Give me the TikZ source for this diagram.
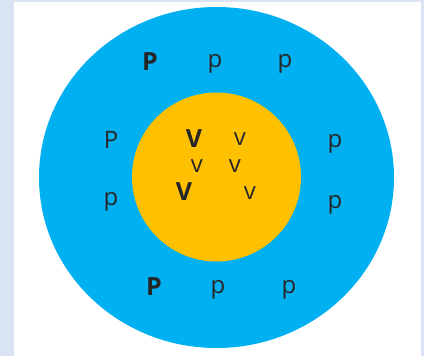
\documentclass[tikz,border=0pt]{standalone}
\usepackage{fontspec}
\setmainfont{Open Sans}
\usepackage{tikz}
\usetikzlibrary{positioning,shapes.geometric}
\definecolor{outerblue}{HTML}{00B0F0}
\definecolor{innergold}{HTML}{FFC000}
\definecolor{panelframe}{HTML}{DAE3F3}
\definecolor{labeltext}{HTML}{262626}

\begin{document}
\begin{tikzpicture}[x=1pt, y=-1pt,
  ring/.style={draw=none, inner sep=0pt},
  lbl/.style={text=labeltext, font=\fontsize{24}{28}\selectfont, inner sep=0pt},
  bold/.style={lbl, font=\fontsize{25}{29}\selectfont\bfseries}
]
  \useasboundingbox (0,0) rectangle (424,356);
  \fill[panelframe] (0,0) rectangle (424,356);
  \fill[white] (14,2) rectangle (421,356);

  \node[ring, ellipse, fill=outerblue, minimum width=355pt, minimum height=341pt] (outer) at (216.5,177.5) {};
  \node[ring, circle, fill=innergold, minimum size=169pt] (inner) at (216.5,177) {};

  % outer ring
  \node[bold] (ptopa) at (150,62) {P};
  \node[lbl] (ptopb) at (215,64) {p};
  \node[lbl] (ptopc) at (285,64) {p};
  \node[lbl] (plefta) at (111,140) {P};
  \node[lbl] (pleftb) at (111,202) {p};
  \node[lbl] (prighta) at (335,144) {p};
  \node[lbl] (prightb) at (335,205) {p};
  \node[bold] (pbota) at (154,287) {P};
  \node[lbl] (pbotb) at (218,290) {p};
  \node[lbl] (pbotc) at (289,290) {p};

  % inner circle
  \node[bold] (vone) at (194,139) {V};
  \node[lbl] (vtwo) at (240,139) {v};
  \node[lbl] (vthree) at (197,166) {v};
  \node[lbl] (vfour) at (235,166) {v};
  \node[bold] (vfive) at (184,192) {V};
  \node[lbl] (vsix) at (250,193) {v};
\end{tikzpicture}
\end{document}
